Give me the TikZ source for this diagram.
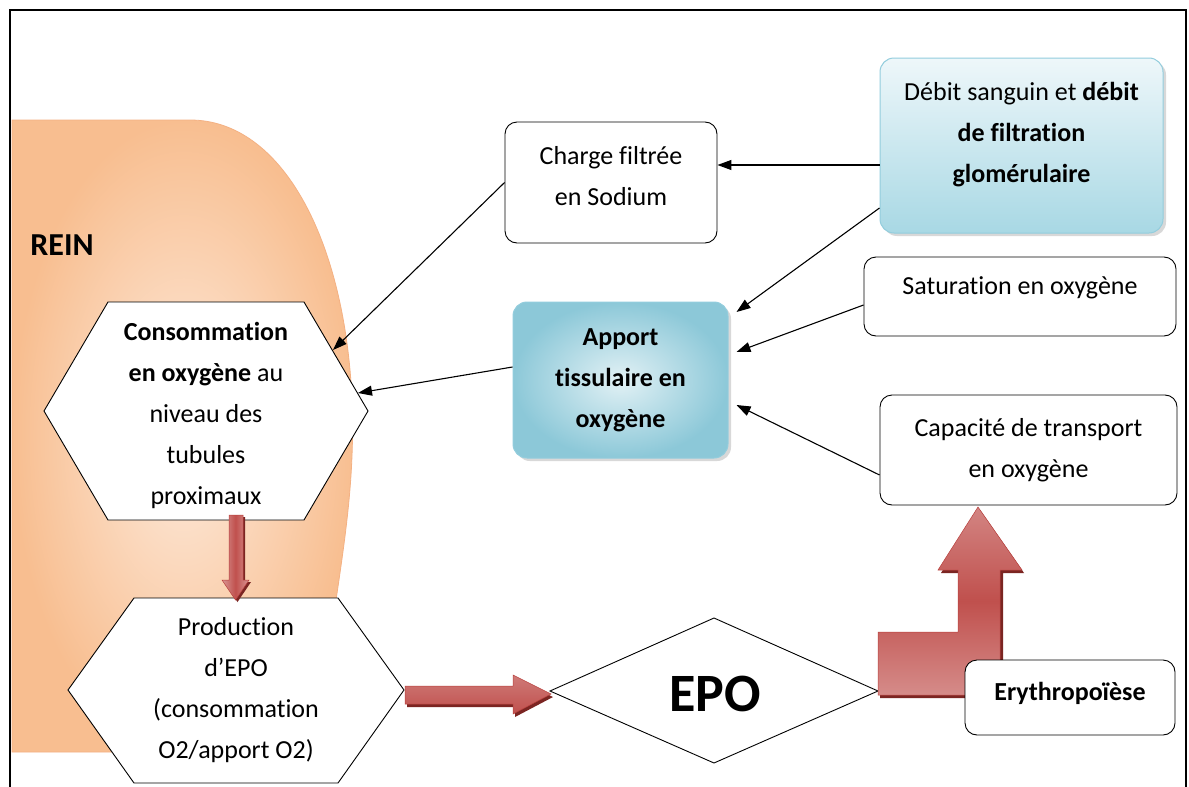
\documentclass[tikz,border=0pt]{standalone}
\usepackage{fontspec}
\setmainfont{Carlito}[Ligatures={NoCommon},RawFeature={-calt;-liga;-dlig}]
\usetikzlibrary{arrows.meta,shadows}
\definecolor{peachL}{HTML}{FDEBDD}
\definecolor{peachD}{HTML}{F8BE90}
\definecolor{peachBd}{HTML}{F4B183}
\definecolor{blueL}{HTML}{EEF7FA}
\definecolor{blueD}{HTML}{A8D8E4}
\definecolor{blueBd}{HTML}{93CDDD}
\definecolor{apL}{HTML}{E2F1F5}
\definecolor{apD}{HTML}{8CC8D8}
\definecolor{redM}{HTML}{C0504D}
\definecolor{redL}{HTML}{D99694}
\definecolor{redBd}{HTML}{B9413E}
\definecolor{redS}{HTML}{7B2522}
\begin{document}
\begin{tikzpicture}[x=1pt,y=-1pt,
  every node/.style={font=\fontsize{26}{41}\selectfont},
  plainbox/.style={draw=black,line width=0.9pt,rounded corners=12pt,fill=white,inner sep=0pt},
  bluebox/.style={draw=blueBd,line width=1pt,rounded corners=14pt,inner sep=0pt,
    drop shadow={shadow xshift=3pt,shadow yshift=-3pt,fill=black!30}},
  txt/.style={align=center,inner sep=0pt},
  link/.style={-{Triangle[length=14pt,width=10pt]},line width=1.1pt},
  hexa/.style={draw=black,line width=0.9pt,fill=white},
  redshape/.style={draw=redBd,line width=0.5pt},
  redshadow/.style={fill=redS}]
\useasboundingbox (0,0) rectangle (1189,787);
\fill[white] (0,0) rectangle (1189,787);
% frame
\draw[line width=1.4pt] (10,800) -- (10,10) -- (1186,10) -- (1186,800);

% kidney
\shadedraw[inner color=peachL,outer color=peachD,draw=peachBd,line width=0.8pt]
  (12,120) -- (190,120) .. controls (282,120) and (345,240) .. (352,400)
  .. controls (355,480) and (345,540) .. (330,640) -- (320,752) -- (12,752) -- cycle;
\node[font=\fontsize{32}{38}\selectfont\bfseries] (rein) at (62,245) {REIN};

% hexagons
\draw[hexa] (108,302) -- (304,302) -- (368,411) -- (304,520) -- (108,520) -- (44,411) -- cycle;
\node[txt] (conso) at (206,415) {\textbf{Consommation}\\\textbf{en oxygène} au\\niveau des\\tubules\\proximaux};
\coordinate (hexAa) at (333,350);
\coordinate (hexAb) at (358,393);

\draw[hexa] (134,598) -- (338,598) -- (404,690) -- (338,783) -- (134,783) -- (68,690) -- cycle;
\node[txt] (prod) at (236,690) {Production\\d’EPO\\(consommation\\O2/apport O2)};

% red arrow down
\fill[redshadow] (231,517) -- (245,517) -- (245,582) -- (251,582) -- (237.5,602) -- (224,582) -- (231,582) -- cycle;
\shadedraw[redshape,left color=redL,right color=redL,middle color=redM]
  (229,515) -- (243,515) -- (243,580) -- (249,580) -- (235.5,600) -- (222,580) -- (229,580) -- cycle;

% diamond EPO
\draw[hexa] (550,691) -- (714,618) -- (878,691) -- (714,763) -- cycle;
\node[font=\fontsize{54}{60}\selectfont\bfseries] (epo) at (715,694) {EPO};

% red arrow right
\fill[redshadow] (407,689) -- (515,689) -- (515,678) -- (553,697) -- (515,717) -- (515,707) -- (407,707) -- cycle;
\shadedraw[redshape,top color=redL!60!redM,bottom color=redM]
  (405,686) -- (513,686) -- (513,675) -- (551,694) -- (513,714) -- (513,704) -- (405,704) -- cycle;

% L arrow to capacite
\fill[redshadow] (880,698) -- (880,635) -- (960,635) -- (960,573) -- (941,573) -- (980,510) -- (1024,573) -- (1003,573) -- (1003,698) -- cycle;
\shadedraw[redshape,top color=redL!75!redM,bottom color=redL!85!redM,middle color=redM]
  (878,695) -- (878,632) -- (958,632) -- (958,570) -- (938,570) -- (978,507) -- (1022,570) -- (1000,570) -- (1000,695) -- cycle;

% boxes
\node[plainbox,minimum width=210pt,minimum height=75pt] (eryth) at (1070,697.5) {};
\node[txt,font=\fontsize{26}{41}\selectfont\bfseries] (erythT) at (1070,693) {Erythropoïèse};

\node[plainbox,minimum width=297pt,minimum height=110pt] (cap) at (1028.5,450) {};
\node[txt] (capT) at (1028.5,450) {Capacité de transport\\en oxygène};

\node[plainbox,minimum width=312pt,minimum height=79pt] (sat) at (1020,296.5) {};
\node[txt] (satT) at (1020,288) {Saturation en oxygène};

\node[plainbox,minimum width=212pt,minimum height=121pt] (charge) at (611,182.5) {};
\node[txt] (chargeT) at (611,176) {Charge filtrée\\en Sodium};

\node[bluebox,top color=blueL,bottom color=blueD,minimum width=283pt,minimum height=175pt] (debit) at (1021.5,145.5) {};
\node[txt] (debitT) at (1021.5,135) {Débit sanguin et \textbf{débit}\\\textbf{de filtration}\\\textbf{glomérulaire}};

\node[bluebox,inner color=apL,outer color=apD,minimum width=215pt,minimum height=156pt] (apport) at (620.5,380) {};
\node[txt,font=\fontsize{26}{41}\selectfont\bfseries] (apportT) at (620.5,380) {Apport\\tissulaire en\\oxygène};

% connectors
\draw[link] ([yshift=-19.5pt]debit.west) -- ([yshift=17.5pt]charge.east);
\draw[link] ([yshift=-62.5pt]debit.west) -- ([xshift=8pt,yshift=68pt]apport.east);
\draw[link] ([yshift=-8.5pt]sat.west) -- ([xshift=8pt,yshift=28pt]apport.east);
\draw[link] ([yshift=-25pt]cap.west) -- ([xshift=8pt,yshift=-25pt]apport.east);
\draw[link] (charge.west) -- (hexAa);
\draw[link] ([yshift=13pt]apport.west) -- (hexAb);
\end{tikzpicture}
\end{document}
